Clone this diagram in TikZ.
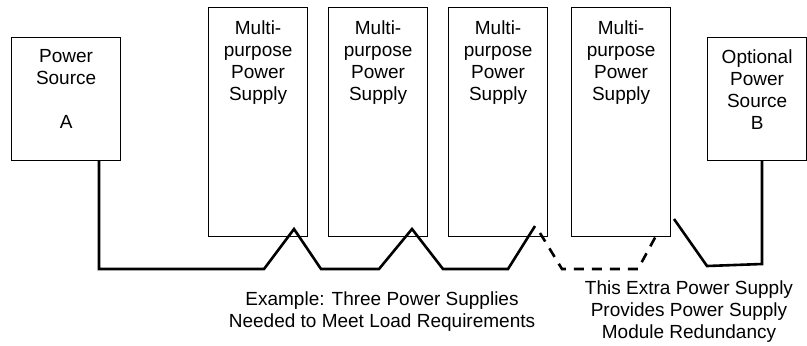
\documentclass[tikz,border=0pt]{standalone}
\usepackage{fontspec}
\setmainfont{Liberation Sans}
\begin{document}
\begin{tikzpicture}[x=0.5pt,y=-0.5pt,
  box/.style={draw,line width=0.6pt,anchor=north west,inner sep=0pt},
  boxtext/.style={anchor=north,align=center,inner sep=0pt,font=\fontsize{9.5}{11}\selectfont},
  note/.style={align=center,inner sep=0pt,font=\fontsize{9.5}{11}\selectfont},
  wire/.style={line width=1.3pt,line join=miter}]
\useasboundingbox (0,0) rectangle (807,345);
% sources
\node[box,minimum width=54.5pt,minimum height=61.5pt] (A) at (11,37) {};
\node[boxtext] (At) at ([yshift=-6pt]A.north) {Power\\Source\\[11pt]A};
\node[box,minimum width=49.5pt,minimum height=61.5pt] (B) at (707,37) {};
\node[boxtext] (Bt) at ([yshift=-6pt]B.north) {Optional\\Power\\Source\\B};
% power supply modules
\foreach \x [count=\i] in {208,328,448,571} {
  \node[box,minimum width=49.5pt,minimum height=114.5pt] (P\i) at (\x,7) {};
  \node[boxtext] (P\i t) at ([yshift=-6.5pt]P\i.north) {Multi-\\purpose\\Power\\Supply};
}
% wire corners
\coordinate (W1) at (99,269);
\coordinate (W2) at (264,269);
\coordinate (W3) at (294,229);
\coordinate (W4) at (321,269);
\coordinate (W5) at (379,269);
\coordinate (W6) at (412,229);
\coordinate (W7) at (443,269);
\coordinate (W8) at (508,269);
\coordinate (W9) at (535,226);
\coordinate (D1) at (540,233);
\coordinate (D2) at (562,269);
\coordinate (D3) at (638,269);
\coordinate (D4) at (657,234);
\coordinate (E1) at (674,219);
\coordinate (E2) at (707,266);
\coordinate (E3) at (762,264);
\draw [wire] (A.south -| W1) -- (W1) -- (W2) -- (W3) -- (W4) -- (W5) -- (W6) -- (W7) -- (W8) -- (W9);
\draw [wire,dash pattern=on 5pt off 4pt] (D1) -- (D2) -- (D3) -- (D4);
\draw [wire] (E1) -- (E2) -- (E3) -- (B.south -| E3);
% notes
\node[note] (N1) at (382,312) {Example: Three Power Supplies\\Needed to Meet Load Requirements};
\node[note] (N2) at (689,312) {This Extra Power Supply\\Provides Power Supply\\Module Redundancy};
\end{tikzpicture}
\end{document}
